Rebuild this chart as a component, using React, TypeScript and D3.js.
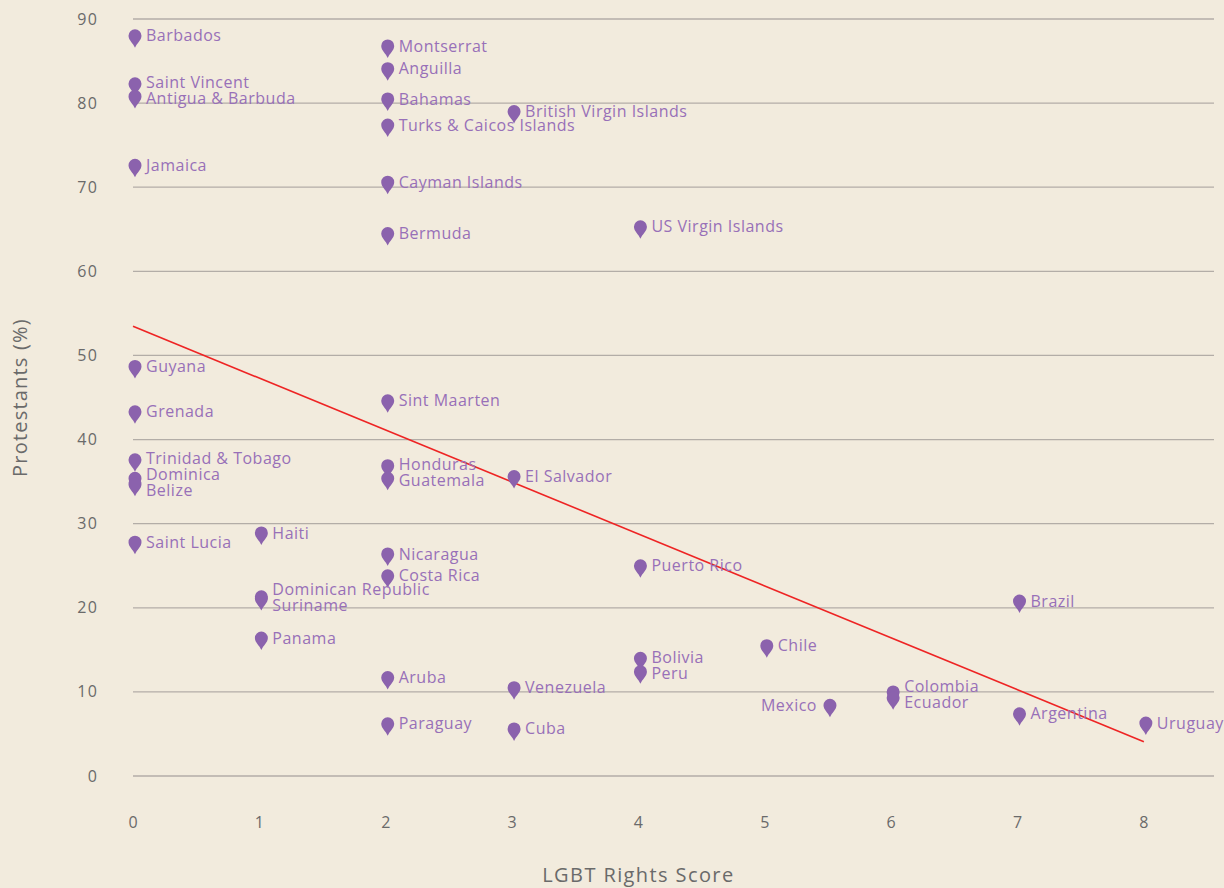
import React from 'react';
import * as d3 from 'd3';

// Country, LGBT rights score, share of protestants (%)
const countries = [
  'Barbados', 'Saint Vincent', 'Antigua & Barbuda', 'Jamaica', 'Guyana', 'Grenada',
  'Trinidad & Tobago', 'Dominica', 'Belize', 'Saint Lucia',
  'Haiti', 'Dominican Republic', 'Suriname', 'Panama',
  'Montserrat', 'Anguilla', 'Bahamas', 'Turks & Caicos Islands', 'Cayman Islands', 'Bermuda',
  'Sint Maarten', 'Honduras', 'Guatemala', 'Nicaragua', 'Costa Rica', 'Aruba', 'Paraguay',
  'British Virgin Islands', 'El Salvador', 'Venezuela', 'Cuba',
  'US Virgin Islands', 'Puerto Rico', 'Bolivia', 'Peru',
  'Chile', 'Mexico', 'Colombia', 'Ecuador', 'Brazil', 'Argentina', 'Uruguay',
];
const lgbtScores = [
  0, 0, 0, 0, 0, 0, 0, 0, 0, 0,
  1, 1, 1, 1,
  2, 2, 2, 2, 2, 2, 2, 2, 2, 2, 2, 2, 2,
  3, 3, 3, 3,
  4, 4, 4, 4,
  5, 5.5, 6, 6, 7, 7, 8,
];
const protestants = [
  88, 82.3, 80.8, 72.6, 48.7, 43.3, 37.6, 35.4, 34.7, 27.8,
  28.9, 21.3, 21.1, 16.4,
  86.8, 84.1, 80.5, 77.4, 70.6, 64.5, 44.6, 36.9, 35.4, 26.4, 23.8, 11.7, 6.2,
  79, 35.6, 10.5, 5.6,
  65.3, 25, 14, 12.4,
  15.5, 8.4, 10, 9.3, 20.8, 7.4, 6.3,
];
const xTicks = [0, 1, 2, 3, 4, 5, 6, 7, 8];
const yTicks = [0, 10, 20, 30, 40, 50, 60, 70, 80, 90];

const W = 1224;
const H = 888;
const margin = { top: 19, right: 10, bottom: 112, left: 133 };

const BG = '#f2ebdd';
const PIN = '#8b62ad';
const LABEL = '#9870b8';
const AXIS_TEXT = '#6a6a6a';
const GRID = '#b3ada7';
const FONT = '"Open Sans", "Noto Sans", sans-serif';

const pinPath = 'M0,12 C-1.8,7.5 -6.5,4.5 -6.5,0 A6.5,6.5 0 1 1 6.5,0 C6.5,4.5 1.8,7.5 0,12 Z';

export default function App() {
  const x = d3.scaleLinear().domain([0, 8.555]).range([margin.left, W - margin.right]);
  const y = d3.scaleLinear().domain([0, 90]).range([H - margin.bottom, margin.top]);

  const pts = countries.map((name, i) => ({
    name,
    sx: lgbtScores[i],
    px: x(lgbtScores[i]),
    py: y(protestants[i]),
    ly: y(protestants[i]),
    left: false,
  }));

  // spread labels that sit on top of each other in the same column
  const gap = 16;
  const groups = d3.group(pts, (d) => d.sx);
  groups.forEach((g) => {
    g.sort((a, b) => a.py - b.py);
    for (let it = 0; it < 20; it++) {
      for (let i = 1; i < g.length; i++) {
        const d = g[i].ly - g[i - 1].ly;
        if (d < gap) {
          const m = (g[i].ly + g[i - 1].ly) / 2;
          g[i - 1].ly = m - gap / 2;
          g[i].ly = m + gap / 2;
        }
      }
    }
  });

  // put a label on the left if a pin sits in its way on the right
  pts.forEach((p) => {
    const w = p.name.length * 9;
    p.left = pts.some(
      (q) => q !== p && q.px > p.px + 8 && q.px < p.px + 12 + w && Math.abs(q.py - p.py) < 9
    );
  });

  // least squares trend line
  const mx = d3.mean(lgbtScores) as number;
  const my = d3.mean(protestants) as number;
  const sxy = d3.sum(lgbtScores, (v, i) => (v - mx) * (protestants[i] - my));
  const sxx = d3.sum(lgbtScores, (v) => (v - mx) ** 2);
  const slope = sxy / sxx;
  const intercept = my - slope * mx;
  const [x0, x1] = d3.extent(lgbtScores) as [number, number];

  return (
    <svg
      width={W}
      height={H}
      style={{ position: 'absolute', left: 0, top: 0, background: BG }}
      fontFamily={FONT}
    >
      <rect width={W} height={H} fill={BG} />
      {yTicks.map((t) => (
        <g key={t}>
          <line x1={x.range()[0]} x2={x.range()[1]} y1={y(t)} y2={y(t)} stroke={GRID} strokeWidth={1.3} />
          <text x={98} y={y(t)} dy="0.35em" textAnchor="end" fontSize={16} letterSpacing={1.2} fill={AXIS_TEXT}>
            {t}
          </text>
        </g>
      ))}
      {xTicks.map((t) => (
        <text key={t} x={x(t)} y={822} dy="0.35em" textAnchor="middle" fontSize={16} fill={AXIS_TEXT}>
          {t}
        </text>
      ))}
      <text
        x={(x(0) + x(8)) / 2}
        y={875}
        dy="0.35em"
        textAnchor="middle"
        fontSize={20}
        letterSpacing={1.4}
        fill={AXIS_TEXT}
      >
        LGBT Rights Score
      </text>
      <text
        transform={`translate(20,${(y(0) + y(90)) / 2}) rotate(-90)`}
        dy="0.35em"
        textAnchor="middle"
        fontSize={20}
        letterSpacing={1.2}
        fill={AXIS_TEXT}
      >
        Protestants (%)
      </text>

      <line
        x1={x(x0)}
        y1={y(intercept + slope * x0)}
        x2={x(x1)}
        y2={y(intercept + slope * x1)}
        stroke="#ee2424"
        strokeWidth={1.6}
      />

      {pts.map((p) => (
        <path key={'p' + p.name} d={pinPath} transform={`translate(${p.px + 2},${p.py})`} fill={PIN} />
      ))}
      {pts.map((p) => (
        <text
          key={'t' + p.name}
          x={p.left ? p.px - 11 : p.px + 13}
          y={p.ly}
          dy="0.35em"
          textAnchor={p.left ? 'end' : 'start'}
          fontSize={16}
          letterSpacing={0.5}
          fill={LABEL}
        >
          {p.name}
        </text>
      ))}
    </svg>
  );
}
